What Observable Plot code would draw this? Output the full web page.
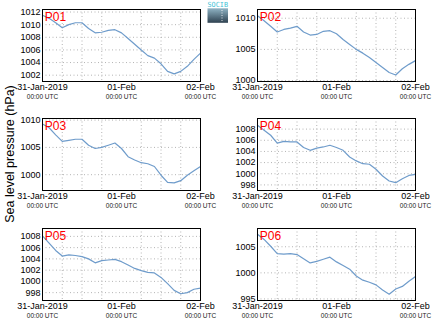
<!DOCTYPE html>
<html>
<head>
<meta charset="utf-8">
<script src="https://cdn.jsdelivr.net/npm/d3@7"></script>
<script src="https://cdn.jsdelivr.net/npm/@observablehq/plot@0.6"></script>
<style>
  html, body { margin: 0; padding: 0; background: #fff; }
  #chart { position: relative; width: 434px; height: 327px; overflow: hidden; font-family: "Liberation Sans", Arial, sans-serif; }
  #chart > svg, #chart > div { position: absolute; }
</style>
</head>
<body>
<div id="chart"></div>
<script>
// ---- data ----
const hours = [0,2,4,6,8,10,12,14,16,18,20,22,24,26,28,30,32,34,36,38,40,42,44,46,48];
const p01 = [1011.5,1011.0,1010.3,1009.5,1010.0,1010.3,1010.3,1009.4,1008.7,1008.8,1009.1,1009.2,1008.7,1007.8,1006.9,1006.0,1005.1,1004.7,1003.8,1002.6,1002.2,1002.6,1003.4,1004.5,1005.5];
const p02 = [1010.4,1009.6,1008.7,1007.8,1008.2,1008.4,1008.7,1007.8,1007.3,1007.4,1007.9,1008.0,1007.5,1006.6,1005.8,1005.0,1004.4,1003.7,1002.9,1002.1,1001.3,1000.9,1001.9,1002.6,1003.2];
const p03 = [1009.3,1008.6,1007.3,1006.1,1006.3,1006.5,1006.5,1005.4,1004.8,1005.0,1005.4,1005.8,1004.8,1003.3,1002.7,1002.2,1002.0,1001.5,999.9,998.6,998.5,998.9,999.9,1000.7,1001.5];
const p04 = [1008.7,1007.8,1006.9,1005.5,1005.8,1005.7,1005.7,1004.7,1004.2,1004.6,1004.8,1005.1,1004.7,1004.2,1003.0,1002.3,1001.8,1001.7,1000.8,999.6,998.7,998.4,999.1,999.7,999.9];
const p05 = [1008.1,1006.8,1005.5,1004.5,1004.7,1004.6,1004.4,1004.0,1003.3,1003.7,1003.8,1003.9,1003.5,1002.9,1002.3,1001.9,1001.6,1001.5,1000.7,999.6,998.4,997.8,998.0,998.6,998.8];
const p06 = [1007.4,1006.4,1005.1,1003.7,1003.6,1003.7,1003.5,1002.7,1001.9,1002.2,1002.6,1003.0,1002.1,1001.4,1000.7,999.4,998.6,998.2,997.7,996.7,995.9,996.9,997.4,998.4,999.3];
const stationNames = ["P01","P02","P03","P04","P05","P06"];
const yTicks01 = [1002,1004,1006,1008,1010,1012];
const yTicks02 = [1000,1005,1010];
const yTicks03 = [1000,1005,1010];
const yTicks04 = [998,1000,1002,1004,1006,1008];
const yTicks05 = [998,1000,1002,1004,1006,1008];
const yTicks06 = [995,1000,1005];
const yDomain01 = [1001.0,1012.4];
const yDomain02 = [999.85,1011.4];
const yDomain03 = [997.1,1010.3];
const yDomain04 = [997.0,1009.9];
const yDomain05 = [996.6,1009.4];
const yDomain06 = [994.7,1008.5];
const xTickLabels = ["31-Jan-2019","01-Feb","02-Feb"];
const xTickSubLabels = ["00:00 UTC","00:00 UTC","00:00 UTC"];
const yAxisTitle = "Sea level pressure (hPa)";
const logoText = "SOCIB";

// ---- build ----
const t0 = Date.UTC(2019,0,31);
const H = 3600e3;
const xDomain = [new Date(t0), new Date(t0 + 48*H)];
const xTickDates = [0,24,48].map(h => new Date(t0 + h*H));
const gridDates = [6,12,18,30,36,42].map(h => new Date(t0 + h*H));

const series = [p01,p02,p03,p04,p05,p06];
const ticks = [yTicks01,yTicks02,yTicks03,yTicks04,yTicks05,yTicks06];
const domains = [yDomain01,yDomain02,yDomain03,yDomain04,yDomain05,yDomain06];

const chart = document.getElementById("chart");
const gridStyle = {stroke: "#b4b4b4", strokeOpacity: 1, strokeDasharray: "1,2.5", strokeWidth: 1};

series.forEach((vals, i) => {
  const col = i % 2, row = Math.floor(i / 2);
  const data = hours.map((h, k) => ({date: new Date(t0 + h*H), value: vals[k]}));
  const width = col === 0 ? 217 : 219;
  const svg = Plot.plot({
    width, height: 109,
    marginLeft: 42, marginRight: col === 0 ? 17 : 19, marginTop: 9, marginBottom: 28,
    x: {type: "utc", domain: xDomain, axis: null},
    y: {domain: domains[i], axis: null},
    style: {fontFamily: "'Liberation Sans', Arial, sans-serif", fontSize: "9px", overflow: "visible", background: "transparent", color: "#000"},
    marks: [
      Plot.gridX(gridDates, gridStyle),
      Plot.gridY(ticks[i], gridStyle),
      Plot.line(data, {x: "date", y: "value", stroke: "#6f9ccb", strokeWidth: 1.2}),
      Plot.frame({stroke: "#000", strokeWidth: 1}),
      Plot.axisY(ticks[i], {tickSize: 0, tickPadding: 2, fontSize: 9, label: null, tickFormat: d => String(d)}),
      Plot.text(xTickDates, {x: d => d, text: (d, k) => xTickLabels[k], frameAnchor: "bottom", dy: 8, fontSize: 9, fill: "#000"}),
      Plot.text(xTickDates, {x: d => d, text: (d, k) => xTickSubLabels[k], frameAnchor: "bottom", dy: 17.7, fontSize: 6.5, fill: "#222"}),
      Plot.text([stationNames[i]], {text: d => d, frameAnchor: "top-left", lineAnchor: "top", dx: 2.3, dy: 2.7, fontSize: 12, fill: "#ff0000"})
    ]
  });
  svg.style.left = (col === 0 ? 0 : 215) + "px";
  svg.style.top = [0, 109, 219][row] + "px";
  chart.appendChild(svg);
});

// y axis title and logo overlay
const ns = "http://www.w3.org/2000/svg";
const over = document.createElementNS(ns, "svg");
over.setAttribute("width", 434); over.setAttribute("height", 327);
over.style.left = "0px"; over.style.top = "0px"; over.style.pointerEvents = "none";
over.innerHTML = `
  <defs><linearGradient id="lg" x1="0" y1="0" x2="0" y2="1">
    <stop offset="0" stop-color="#8fb3c4"/><stop offset="1" stop-color="#2e4150"/></linearGradient></defs>
  <text transform="translate(14,154) rotate(-90)" text-anchor="middle" font-size="12.5" font-family="'Liberation Sans', Arial, sans-serif" fill="#000">${yAxisTitle}</text>
  <text x="207.5" y="7.3" font-size="7" font-family="'DejaVu Sans Mono', monospace" fill="#3fc3d6" textLength="20.5" lengthAdjust="spacingAndGlyphs">${logoText}</text>
  <rect x="207.5" y="8.3" width="20.5" height="14.5" fill="url(#lg)"/>
  <line x1="222" y1="10" x2="222" y2="21" stroke="#fff" stroke-width="0.8" stroke-dasharray="1,1.5"/>
`;
chart.appendChild(over);
</script>
</body>
</html>
